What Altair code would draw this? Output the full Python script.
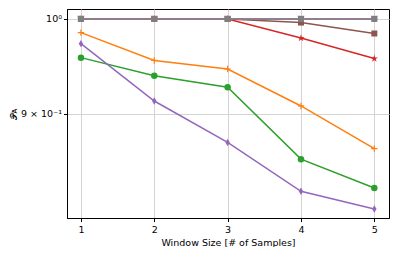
import altair as alt
import pandas as pd

x_vals = [1, 2, 3, 4, 5]
series_names = ["blue", "orange", "green", "red", "purple", "brown", "pink", "gray"]
blue = [1.0, 1.0, 1.0, 1.0, 1.0]
orange = [0.985, 0.955, 0.946, 0.908, 0.866]
green = [0.958, 0.939, 0.927, 0.856, 0.829]
red = [1.0, 1.0, 1.0, 0.979, 0.957]
purple = [0.973, 0.913, 0.872, 0.826, 0.810]
brown = [1.0, 1.0, 1.0, 0.996, 0.984]
pink = [1.0, 1.0, 1.0, 1.0, 1.0]
gray = [1.0, 1.0, 1.0, 1.0, 1.0]
y_ticks = [0.9, 1.0]

values = [blue, orange, green, red, purple, brown, pink, gray]
colors = ["#1f77b4", "#ff7f0e", "#2ca02c", "#d62728", "#9467bd", "#8c564b", "#e377c2", "#7f7f7f"]
plus = "M-1,0L1,0M0,-1L0,1"
star = ("M0,-1L0.2245,-0.309L0.951,-0.309L0.363,0.118L0.588,0.809L0,0.382"
        "L-0.588,0.809L-0.363,0.118L-0.951,-0.309L-0.2245,-0.309Z")
thin_diamond = "M0,-1L0.6,0L0,1L-0.6,0Z"
shapes = ["circle", plus, "circle", star, thin_diamond, "square", "triangle-down", "square"]
sizes = [36, 40, 42, 60, 55, 36, 55, 36]
filled = [True, False, True, True, True, True, True, True]

rows = []
for name, vals in zip(series_names, values):
    for xv, yv in zip(x_vals, vals):
        rows.append({"series": name, "x": xv, "y": yv})
df = pd.DataFrame(rows)

xs = alt.Scale(domain=[0.81, 5.2], nice=False, zero=False)
ys = alt.Scale(type="log", domain=[0.8019, 1.0111], nice=False, zero=False)

xaxis = alt.Axis(values=x_vals, format="d", title="Window Size [# of Samples]",
                 grid=True, gridColor="#d4d4d4", gridWidth=1, tickColor="black",
                 domainColor="black", labelFont="DejaVu Sans", labelFontSize=9.5,
                 titleFont="DejaVu Sans", titleFontSize=9.5, titleFontWeight="normal",
                 labelColor="black", titleColor="black", tickSize=3.5, labelPadding=3,
                 titlePadding=3)
yaxis = alt.Axis(values=y_ticks, title="𝒫ᴀ",
                 labelExpr="datum.value > 0.95 ? '10⁰' : '9 × 10⁻¹'",
                 grid=True, gridColor="#d4d4d4", gridWidth=1, tickColor="black",
                 domainColor="black", labelFont="DejaVu Sans", labelFontSize=9.5,
                 titleFont="DejaVu Sans", titleFontSize=9, titleFontWeight="normal",
                 labelColor="black", titleColor="black", tickSize=3.5, labelPadding=2,
                 titleX=-54, titleY=104.5, titleAlign="center", titleBaseline="middle")

layers = []
for i, name in enumerate(series_names):
    base = alt.Chart(df).transform_filter(alt.datum.series == name)
    enc = dict(x=alt.X("x:Q", scale=xs, axis=xaxis),
               y=alt.Y("y:Q", scale=ys, axis=yaxis))
    line = base.mark_line(color=colors[i], strokeWidth=1.5, clip=True).encode(**enc)
    pt_kwargs = dict(shape=shapes[i], size=sizes[i], opacity=1, clip=True)
    if filled[i]:
        pt_kwargs.update(filled=True, color=colors[i])
    else:
        pt_kwargs.update(filled=False, stroke=colors[i], strokeWidth=1.2)
    pts = base.mark_point(**pt_kwargs).encode(**enc)
    layers.append(line)
    layers.append(pts)

chart = alt.layer(*layers).properties(
    width=322, height=209,
    autosize=alt.AutoSizeParams(type="none"),
    padding={"left": 59, "top": 1, "right": 2, "bottom": 29},
).configure(background="white").configure_view(stroke="black", strokeWidth=1)

chart.save("out.html", embed_options={"renderer": "svg", "actions": False})
